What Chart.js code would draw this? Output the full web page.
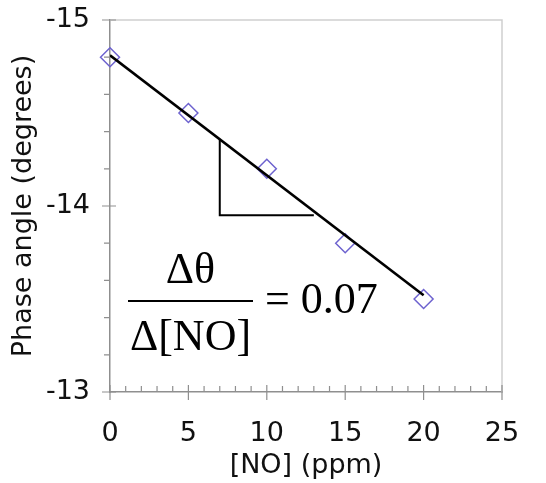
<!DOCTYPE html>
<html>
<head>
<meta charset="utf-8">
<script src="https://cdn.jsdelivr.net/npm/chart.js@4.4.1/dist/chart.umd.min.js"></script>
<style>
  html, body { margin: 0; padding: 0; background: #fff; }
  #wrap { width: 546px; height: 483px; }
</style>
</head>
<body>
<div id="wrap"><canvas id="c" width="546" height="483"></canvas></div>
<script>
  // data
  var noPpm    = [0, 5, 10, 15, 20];
  var phaseDeg = [-14.8, -14.5, -14.2, -13.8, -13.5];

  // least squares line, end points
  var fitX = [0, 20];
  var fitY = [-14.81, -13.52];

  // slope triangle
  var triX = [7, 7, 13];
  var triY = [-14.36, -13.95, -13.95];

  var xMajor = [0, 5, 10, 15, 20, 25];
  var yMajor = [-15, -14, -13];

  var AXIS_GREY  = '#8f8f8f';
  var FRAME_GREY = '#cfcfcf';

  function pts(xs, ys) {
    return xs.map(function (x, i) { return { x: x, y: ys[i] }; });
  }

  function isMajor(list, v) {
    return list.some(function (m) { return Math.abs(m - v) < 1e-6; });
  }

  // ── tick marks + frame ────────────────────────────────────────────────
  var frameTicks = {
    id: 'frameTicks',
    beforeDatasetsDraw: function (chart) {
      var ctx = chart.ctx, a = chart.chartArea;
      var xs = chart.scales.x, ys = chart.scales.y;
      ctx.save();
      ctx.lineWidth = 1.5;

      ctx.strokeStyle = FRAME_GREY;
      ctx.beginPath();
      ctx.moveTo(a.left, a.top); ctx.lineTo(a.right, a.top);
      ctx.lineTo(a.right, a.bottom);
      ctx.stroke();

      ctx.strokeStyle = AXIS_GREY;
      ctx.lineWidth = 1.2;
      ctx.beginPath();
      xs.ticks.forEach(function (t) {
        var px = xs.getPixelForValue(t.value);
        if (isMajor(xMajor, t.value)) {
          ctx.moveTo(px, a.bottom - 7); ctx.lineTo(px, a.bottom + 8);
        } else {
          ctx.moveTo(px, a.bottom - 6); ctx.lineTo(px, a.bottom);
        }
      });
      ys.ticks.forEach(function (t) {
        var py = ys.getPixelForValue(t.value);
        if (isMajor(yMajor, t.value)) {
          ctx.moveTo(a.left - 8, py); ctx.lineTo(a.left + 6, py);
        } else {
          ctx.moveTo(a.left - 6, py); ctx.lineTo(a.left, py);
        }
      });
      ctx.stroke();
      ctx.restore();
    }
  };

  // ── slope formula ─────────────────────────────────────────────────────
  var slopeText = {
    id: 'slopeText',
    afterDatasetsDraw: function (chart) {
      var ctx = chart.ctx, a = chart.chartArea;
      var barL = a.left + 18, barR = a.left + 143, barY = a.top + 281;
      var mid = (barL + barR) / 2;
      ctx.save();
      ctx.fillStyle = '#000';
      ctx.strokeStyle = '#000';
      ctx.lineWidth = 2;
      ctx.beginPath();
      ctx.moveTo(barL, barY); ctx.lineTo(barR, barY);
      ctx.stroke();

      ctx.font = '44px "Liberation Serif", "Times New Roman", serif';
      ctx.textAlign = 'center';
      ctx.textBaseline = 'alphabetic';
      ctx.fillText('\u0394\u03b8', mid, barY - 18);
      ctx.fillText('\u0394[NO]', mid, barY + 49);

      ctx.textAlign = 'left';
      ctx.fillText('= 0.07', barR + 12, barY + 12);
      ctx.restore();
    }
  };

  new Chart(document.getElementById('c'), {
    type: 'scatter',
    data: {
      datasets: [
        {
          label: 'fit',
          type: 'line',
          data: pts(fitX, fitY),
          borderColor: '#000',
          borderWidth: 2.6,
          pointRadius: 0,
          fill: false,
          order: 0
        },
        {
          label: 'triangle',
          type: 'line',
          data: pts(triX, triY),
          borderColor: '#000',
          borderWidth: 2,
          pointRadius: 0,
          fill: false,
          order: 1
        },
        {
          label: 'phase',
          data: pts(noPpm, phaseDeg),
          pointStyle: 'rectRot',
          pointRadius: 9.5,
          pointBorderWidth: 1.5,
          borderColor: '#6d62cf',
          backgroundColor: 'rgba(0,0,0,0)',
          clip: false,
          order: 2
        }
      ]
    },
    options: {
      responsive: false,
      animation: false,
      events: [],
      layout: { padding: { left: 0, right: 44, top: 20, bottom: 0 } },
      plugins: { legend: { display: false }, tooltip: { enabled: false } },
      scales: {
        x: {
          type: 'linear',
          min: 0, max: 25,
          grid: { display: false, drawTicks: false, tickLength: 0 },
          border: { display: true, color: AXIS_GREY, width: 1.5 },
          ticks: {
            stepSize: 1,
            autoSkip: false,
            maxRotation: 0,
            padding: 26,
            color: '#111',
            font: { family: '"DejaVu Sans", Verdana, sans-serif', size: 27 },
            callback: function (v) { return isMajor(xMajor, v) ? String(Math.round(v)) : ''; }
          },
          title: {
            display: true,
            text: '[NO] (ppm)',
            color: '#111',
            padding: { top: 0, bottom: 1 },
            font: { family: '"DejaVu Sans", Verdana, sans-serif', size: 27, lineHeight: 1.2 }
          },
          afterFit: function (s) {
            s.height = 91;
            s.paddingLeft = 0;
            s.paddingRight = 0;
          }
        },
        y: {
          type: 'linear',
          reverse: true,
          min: -15, max: -13,
          grid: { display: false, drawTicks: false, tickLength: 0 },
          border: { display: true, color: AXIS_GREY, width: 1.5 },
          ticks: {
            stepSize: 0.2,
            autoSkip: false,
            padding: 20,
            color: '#111',
            font: { family: '"DejaVu Sans", Verdana, sans-serif', size: 27 },
            callback: function (v) { return isMajor(yMajor, v) ? String(Math.round(v)) : ''; }
          },
          title: {
            display: true,
            text: 'Phase angle (degrees)',
            color: '#111',
            padding: { top: 8, bottom: 0 },
            font: { family: '"DejaVu Sans", Verdana, sans-serif', size: 27, lineHeight: 1.2 }
          },
          afterFit: function (s) {
            s.width = 110;
            s.paddingTop = 0;
            s.paddingBottom = 0;
          }
        }
      }
    },
    plugins: [frameTicks, slopeText]
  });
</script>
</body>
</html>
